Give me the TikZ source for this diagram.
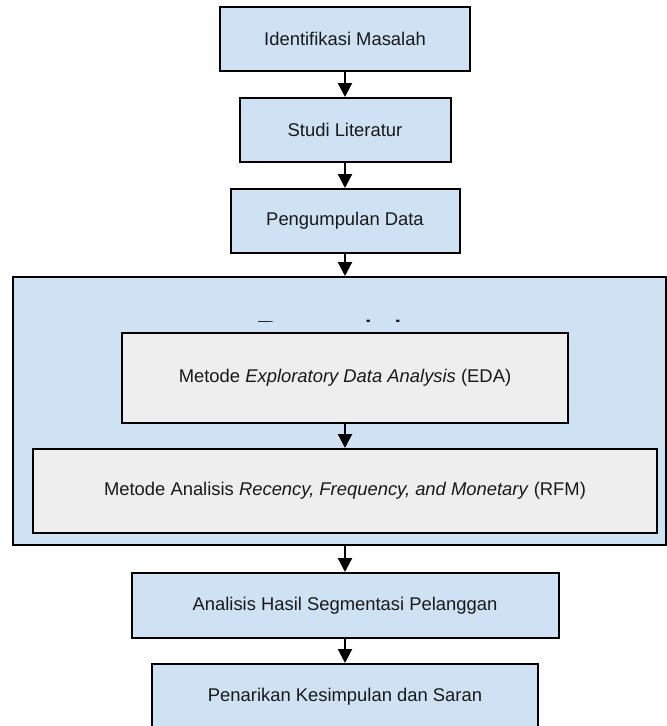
\documentclass[tikz,border=0pt]{standalone}
\usepackage{fontspec}
\setmainfont{Liberation Sans}
\usetikzlibrary{arrows.meta}
\definecolor{boxblue}{HTML}{CFE2F3}
\definecolor{boxgray}{HTML}{EEEEEE}
\tikzset{
  stepbox/.style={draw=black, line width=2pt, fill=boxblue, inner sep=0pt, anchor=center,
    font=\fontsize{18.4}{22}\selectfont, text=black!90},
  methodbox/.style={stepbox, fill=boxgray},
  flow/.style={line width=2.2pt, -{Triangle[length=14pt,width=14pt]}}
}
\begin{document}
\begin{tikzpicture}[x=1pt,y=-1pt]
\useasboundingbox (0,0) rectangle (667,726);
% outer group box
\node[stepbox, minimum width=653pt, minimum height=268pt] (grp) at (339.5,411) {};
\begin{scope}
\clip (13,319.2) rectangle (666,321.6);
\node[anchor=base west, inner sep=0pt, font=\fontsize{37.7}{40}\selectfont, text=black!90] (grptitle) at (255,347.5) {Pengolahan};
\end{scope}
% steps
\node[stepbox, minimum width=250pt, minimum height=64pt] (b1) at (345,39) {Identifikasi Masalah};
\node[stepbox, minimum width=211pt, minimum height=64pt] (b2) at (345,130) {Studi Literatur};
\node[stepbox, minimum width=229pt, minimum height=64pt] (b3) at (345,221) {Pengumpulan Data};
\node[methodbox, minimum width=446pt, minimum height=90pt] (eda) at (345,378) {Metode \textit{Exploratory Data Analysis} (EDA)};
\node[methodbox, minimum width=624pt, minimum height=84pt] (rfm) at (345,491) {Metode Analisis \textit{Recency, Frequency, and Monetary} (RFM)};
\node[stepbox, minimum width=427pt, minimum height=65pt] (b4) at (345,605.5) {Analisis Hasil Segmentasi Pelanggan};
\node[stepbox, minimum width=386pt, minimum height=65pt] (b5) at (345,696.5) {Penarikan Kesimpulan dan Saran};
% connectors
\draw[flow] (b1) -- (b2);
\draw[flow] (b2) -- (b3);
\draw[flow] (b3.south) -- (grp.north -| b3.south);
\draw[flow] (eda) -- (rfm);
\draw[flow] (grp.south -| b4.north) -- (b4.north);
\draw[flow] (b4) -- (b5);
\end{tikzpicture}
\end{document}
